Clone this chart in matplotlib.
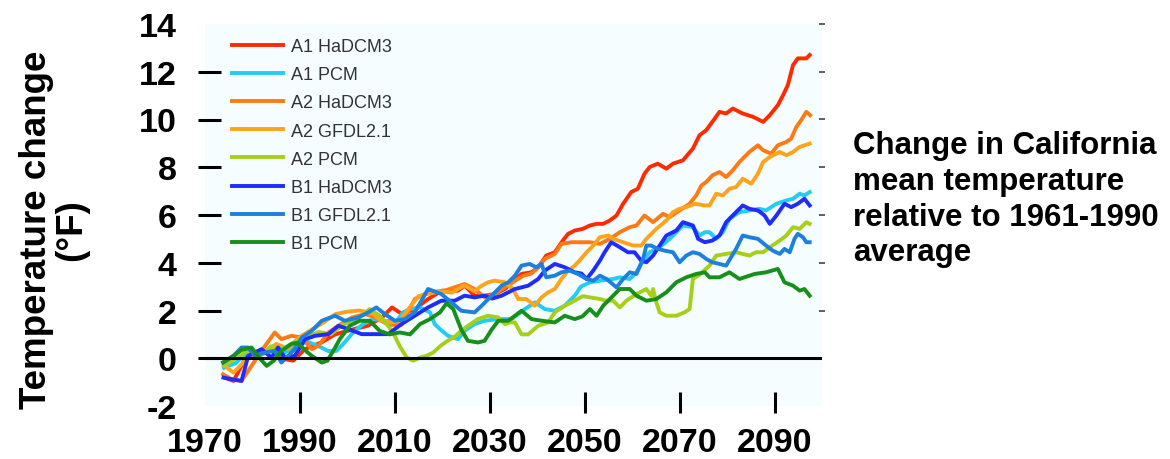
import matplotlib
matplotlib.use("Agg")
import matplotlib.pyplot as plt

plt.rcParams['font.family'] = ['Liberation Sans', 'DejaVu Sans']

# (year, temperature change in degF) for each scenario / model run
a1_hadcm3 = [(1974, -0.8), (1976, -0.95), (1978.8, 0.1), (1981.9, 0.24), (1985.1, 0.38), (1986.8, -0.04),
             (1988.6, -0.1), (1991, 0.38), (1994.6, 0.67), (1997.4, 1.0), (2001, 1.2), (2004.3, 1.36),
             (2007.3, 1.71), (2009.4, 2.13), (2011.5, 1.85), (2014.2, 2.06), (2017, 2.48), (2019.9, 2.83),
             (2023.3, 2.83), (2024.7, 3.04), (2026.8, 2.62), (2028.9, 2.62), (2031, 2.69), (2033.2, 2.9),
             (2034.6, 3.18), (2036.7, 3.53), (2038.8, 3.6), (2040.2, 3.81), (2041.9, 4.3), (2043.7, 4.44),
             (2045.4, 4.93), (2046.5, 5.21), (2047.9, 5.35), (2049.6, 5.42), (2051.1, 5.56), (2052.5, 5.63),
             (2053.9, 5.63), (2055.3, 5.77), (2056.7, 5.98), (2058.1, 6.47), (2059.8, 6.96), (2061.2, 7.1),
             (2062.6, 7.73), (2063.7, 8.01), (2065.4, 8.15), (2067.2, 7.94), (2068.6, 8.15), (2070.7, 8.29),
             (2072.8, 8.78), (2074.2, 9.34), (2075.6, 9.55), (2077.4, 10.04), (2078.4, 10.32), (2079.8, 10.25),
             (2081.2, 10.46), (2083.3, 10.25), (2085.5, 10.11), (2087.6, 9.9), (2089, 10.18), (2090.7, 10.6),
             (2091.8, 11.02), (2092.8, 11.44), (2093.9, 12.28), (2094.9, 12.56), (2096.7, 12.56), (2097.4, 12.7)]

a1_pcm = [(1974, -0.4), (1976.5, -0.2), (1979, 0.3), (1981.5, 0.1), (1984, 0.4), (1986.5, 0.2), (1989, 0.5),
          (1991.5, 0.7), (1994, 0.5), (1996, 0.3), (1997.7, 0.31), (1999.1, 0.59), (2001.2, 1.08),
          (2003.3, 1.43), (2005.4, 1.64), (2008, 1.55), (2010.4, 1.57), (2011.7, 1.92), (2013.2, 2.06),
          (2015.3, 2.13), (2017.4, 1.92), (2018.4, 1.43), (2019.5, 1.22), (2021.2, 0.94), (2023.3, 0.8),
          (2024.7, 1.15), (2026.8, 1.43), (2028.9, 1.57), (2031.8, 1.64), (2034.6, 1.64), (2037.4, 2.06),
          (2039.5, 2.34), (2041.6, 2.06), (2043.7, 1.99), (2045.8, 2.2), (2047.9, 2.62), (2049.2, 3.0),
          (2051.1, 3.18), (2053.2, 3.25), (2056, 3.32), (2057.4, 3.39), (2059.5, 3.32), (2060.9, 3.6),
          (2062.3, 4.09), (2063.7, 4.44), (2065.8, 4.65), (2067.9, 5.0), (2069.3, 5.28), (2070.7, 5.56),
          (2072.8, 5.49), (2074.2, 5.14), (2075.3, 5.28), (2076.3, 5.28), (2077.7, 5.0), (2079.1, 5.28),
          (2080.5, 5.84), (2082.6, 6.12), (2084.7, 6.19), (2086.8, 6.26), (2088.2, 6.19), (2090.4, 6.47),
          (2092.5, 6.61), (2093.9, 6.68), (2095.3, 6.89), (2096.3, 6.82), (2097.4, 6.96)]

a2_hadcm3 = [(1973.8, -0.67), (1975.6, -0.88), (1977.7, -0.95), (1979.8, -0.32), (1981.9, 0.31), (1984.7, 1.08),
             (1986.1, 0.8), (1988.2, 0.94), (1990.4, 0.87), (1992.5, 0.38), (1993.9, 0.52), (1996, 1.08),
             (1998.1, 1.36), (2000.9, 1.7), (2003.7, 1.85), (2006.1, 1.7), (2008.6, 1.4), (2011.4, 1.4),
             (2014.2, 2.48), (2017, 2.76), (2020.5, 2.83), (2022.6, 2.97), (2024.7, 3.11), (2026.8, 2.9),
             (2028.9, 2.55), (2031, 2.69), (2033, 2.95), (2035, 3.2), (2037, 3.45), (2038.8, 3.55),
             (2040.2, 3.81), (2041.6, 4.16), (2043.7, 4.37), (2045.1, 4.79), (2047.2, 4.86), (2048.9, 4.86),
             (2051.1, 4.86), (2053.2, 4.79), (2055.3, 5.0), (2057.4, 5.28), (2059.5, 5.49), (2060.9, 5.56),
             (2062.6, 5.98), (2064.4, 5.7), (2066.5, 6.05), (2067.9, 5.91), (2070, 6.19), (2072.1, 6.47),
             (2073.5, 6.82), (2074.6, 7.24), (2075.6, 7.38), (2076.9, 7.66), (2078.4, 7.8), (2079.8, 7.59),
             (2081.2, 7.87), (2082.6, 8.22), (2084.7, 8.64), (2086.5, 8.92), (2087.6, 8.71), (2089.3, 8.57),
             (2090.7, 8.92), (2092.5, 9.06), (2093.5, 9.2), (2094.6, 9.69), (2095.6, 9.97), (2096.7, 10.32),
             (2097.5, 10.18)]

a2_gfdl = [(1974, -0.3), (1976, -0.6), (1978, -0.2), (1980, 0.3), (1982.5, 0.2), (1985, 0.6), (1987.5, 0.4),
           (1990, 0.9), (1992.5, 1.2), (1995, 1.5), (1997.5, 1.85), (2000, 1.95), (2002.5, 2.0), (2005, 1.9),
           (2007, 1.6), (2009, 1.5), (2011, 1.55), (2013, 2.1), (2015, 2.6), (2017, 2.7), (2019.5, 2.8),
           (2022, 2.75), (2024.7, 3.05), (2026.8, 2.8), (2028, 3.0), (2029.6, 3.18), (2031, 3.25),
           (2033.2, 3.18), (2034.9, 2.9), (2036, 2.48), (2037.7, 2.48), (2039.5, 2.2), (2040.9, 2.55),
           (2042.3, 2.76), (2043.7, 2.9), (2045.1, 3.32), (2046.5, 3.67), (2047.9, 3.88), (2048.9, 4.09),
           (2050.4, 4.44), (2051.8, 4.72), (2053.2, 5.07), (2055, 5.14), (2056, 5.0), (2058.1, 4.86),
           (2060.2, 4.72), (2061.9, 4.72), (2063, 5.0), (2065.1, 5.42), (2067.2, 5.77), (2068.6, 6.12),
           (2070, 6.26), (2071.4, 6.33), (2073.2, 6.47), (2075.3, 6.4), (2076.3, 6.4), (2077.7, 6.89),
           (2079.1, 6.82), (2080.5, 7.1), (2081.9, 7.17), (2083.3, 7.52), (2085.1, 7.31), (2086.5, 7.73),
           (2087.6, 8.22), (2089, 8.43), (2091.1, 8.64), (2092.5, 8.5), (2093.9, 8.64), (2095.3, 8.85),
           (2097.4, 8.99)]

a2_pcm = [(1974, -0.3), (1976.5, 0.0), (1979, 0.3), (1981.5, 0.1), (1984, 0.5), (1986.5, 0.4), (1989, 0.7),
          (1991.5, 0.9), (1994, 1.1), (1996.5, 1.0), (1999, 1.4), (2001.5, 1.6), (2003, 1.78), (2004.7, 2.06),
          (2006.8, 1.78), (2008.3, 1.43), (2009.6, 1.08), (2011, 0.52), (2012.5, 0.03), (2013.9, -0.1),
          (2015.3, 0.03), (2016.7, 0.1), (2018.1, 0.24), (2019.5, 0.5), (2020.9, 0.7), (2022.6, 0.9),
          (2024, 1.15), (2025.4, 1.36), (2027.5, 1.64), (2029.6, 1.78), (2031.8, 1.71), (2033.2, 1.43),
          (2034.2, 1.5), (2035.3, 1.5), (2036.7, 1.0), (2038.1, 1.0), (2040.2, 1.36), (2042.3, 1.5),
          (2043.7, 1.92), (2045.8, 2.2), (2047.2, 2.34), (2049.6, 2.6), (2051.1, 2.55), (2053.2, 2.48),
          (2054.6, 2.41), (2056, 2.41), (2057.4, 2.13), (2058.8, 2.41), (2060.9, 2.69), (2063, 2.9),
          (2064, 2.62), (2064.4, 2.9), (2065.1, 2.34), (2065.8, 1.92), (2067.2, 1.78), (2069.3, 1.78),
          (2071, 1.92), (2072.1, 2.06), (2072.8, 3.32), (2074.2, 3.5), (2076.3, 3.88), (2077.7, 4.3),
          (2079.8, 4.37), (2081.9, 4.44), (2083.3, 4.37), (2084.7, 4.3), (2086.1, 4.44), (2087.6, 4.44),
          (2089, 4.65), (2091.1, 4.93), (2092.5, 5.14), (2093.9, 5.49), (2095.3, 5.42), (2096.7, 5.7),
          (2097.4, 5.63)]

b1_hadcm3 = [(1973.9, -0.81), (1975.6, -0.88), (1977.7, -0.95), (1979.1, 0.1), (1980.5, 0.24), (1981.9, 0.38),
             (1984, 0.03), (1985.4, 0.45), (1986.8, 0.03), (1988.9, 0.1), (1991.1, 0.8), (1993.2, 0.94),
             (1996, 1.01), (1998.1, 1.36), (2000.2, 1.22), (2003, 1.01), (2005.8, 1.01), (2008.6, 1.01),
             (2011.4, 1.43), (2014.2, 1.78), (2017, 2.13), (2019.8, 2.41), (2022.6, 2.41), (2024.7, 2.62),
             (2026.8, 2.55), (2028.9, 2.62), (2030.5, 2.5), (2032.5, 2.62), (2035.3, 2.9), (2038.1, 3.04),
             (2040.2, 3.32), (2041.6, 3.67), (2043.7, 3.95), (2045.8, 3.81), (2047.9, 3.6), (2049.3, 3.55),
             (2050.4, 3.32), (2051.8, 3.67), (2053.2, 4.09), (2054.2, 4.44), (2055.6, 4.86), (2057.4, 4.65),
             (2059.1, 4.44), (2060.5, 4.44), (2061.9, 4.09), (2063, 4.02), (2064.4, 4.3), (2065.8, 4.72),
             (2067.2, 5.14), (2069.3, 5.35), (2070.7, 5.7), (2072.8, 5.56), (2073.9, 5.0), (2075.3, 4.86),
             (2076.9, 4.93), (2078.4, 5.14), (2079.8, 5.7), (2081.2, 5.98), (2083.3, 6.4), (2084.7, 6.26),
             (2086.5, 6.19), (2087.9, 5.98), (2089, 5.63), (2090.4, 5.98), (2092.1, 6.47), (2093.5, 6.33),
             (2094.9, 6.47), (2096.3, 6.68), (2097.4, 6.4)]

b1_gfdl = [(1973.9, -0.18), (1976, 0.1), (1977.7, 0.45), (1979.1, 0.45), (1980.5, 0.1), (1982.6, 0.24),
           (1984.7, 0.31), (1986.1, -0.18), (1988.9, 0.38), (1990.4, 0.87), (1992.5, 1.15), (1994.6, 1.57),
           (1997.4, 1.78), (1999.5, 1.57), (2002.3, 1.71), (2004.4, 1.92), (2006.1, 2.13), (2007.9, 1.85),
           (2010, 1.57), (2012.1, 1.64), (2014.2, 1.92), (2017, 2.9), (2019.8, 2.69), (2021.9, 2.34),
           (2024, 1.99), (2026.8, 1.92), (2028.3, 2.2), (2030.4, 2.62), (2032.5, 3.04), (2033.9, 3.18),
           (2035.3, 3.46), (2036.7, 3.88), (2038.4, 3.95), (2039.8, 3.81), (2040.9, 3.95), (2041.9, 3.39),
           (2043.7, 3.46), (2045.1, 3.6), (2046.8, 3.67), (2048.6, 3.53), (2050.4, 3.32), (2051.8, 3.25),
           (2053.2, 3.46), (2054.6, 3.32), (2056.7, 2.97), (2058.1, 3.32), (2059.5, 3.6), (2060.9, 3.53),
           (2062.3, 4.16), (2063, 4.72), (2064, 4.72), (2065.4, 4.58), (2067, 4.5), (2068.6, 4.44),
           (2070, 4.02), (2071.4, 4.3), (2072.8, 4.44), (2074.2, 4.37), (2075.6, 4.16), (2076.9, 4.02),
           (2078.4, 3.95), (2079.8, 3.88), (2081.9, 4.58), (2083.3, 5.14), (2084.7, 5.07), (2086.5, 5.0),
           (2088.2, 4.72), (2089.6, 4.51), (2091.1, 4.37), (2092.1, 4.58), (2093.2, 4.44), (2094.2, 5.0),
           (2094.9, 5.21), (2096, 5.07), (2096.7, 4.86), (2097.4, 4.86)]

b1_pcm = [(1973.8, -0.17), (1976, 0.1), (1977.7, 0.35), (1979.8, 0.45), (1981.5, 0.0), (1983, -0.32),
          (1984.5, -0.1), (1986.1, 0.31), (1988.2, 0.6), (1989.5, 0.65), (1991, 0.35), (1992.5, 0.1),
          (1994.6, -0.18), (1995.8, -0.1), (1997, 0.3), (1998.4, 0.8), (2000.5, 1.36), (2002.6, 1.57),
          (2004.7, 1.57), (2006.8, 1.15), (2008.9, 1.0), (2011, 1.08), (2013.2, 1.0), (2015.3, 1.43),
          (2017.4, 1.64), (2019.5, 1.92), (2020.9, 2.3), (2022.3, 2.06), (2024, 1.2), (2025.4, 0.73),
          (2027.5, 0.66), (2028.9, 0.73), (2030.4, 1.2), (2031.8, 1.57), (2033.9, 1.57), (2036.7, 1.99),
          (2038.8, 1.64), (2041, 1.57), (2043.7, 1.5), (2045.8, 1.78), (2047.9, 1.64), (2049.5, 1.75),
          (2051.1, 2.06), (2052.5, 1.78), (2053.9, 2.2), (2056, 2.62), (2057.4, 2.9), (2059.5, 2.9),
          (2060.9, 2.62), (2063, 2.41), (2065.1, 2.48), (2067.2, 2.76), (2069.3, 3.18), (2071.4, 3.39),
          (2073.5, 3.53), (2075.3, 3.6), (2076.3, 3.39), (2078.4, 3.39), (2080.5, 3.6), (2082.6, 3.32),
          (2085.8, 3.53), (2088.2, 3.6), (2090.7, 3.74), (2092.1, 3.18), (2093.9, 3.04), (2095.3, 2.83),
          (2096.3, 2.9), (2097.4, 2.62)]

labels = ['A1 HaDCM3', 'A1 PCM', 'A2 HaDCM3', 'A2 GFDL2.1', 'A2 PCM', 'B1 HaDCM3', 'B1 GFDL2.1', 'B1 PCM']
series = [a1_hadcm3, a1_pcm, a2_hadcm3, a2_gfdl, a2_pcm, b1_hadcm3, b1_gfdl, b1_pcm]
colors = ['#ff2a00', '#22ccf2', '#ff7a14', '#ffa41a', '#a6cf1a', '#1f2bff', '#1c80dc', '#16901a']

y_ticks = [-2, 0, 2, 4, 6, 8, 10, 12, 14]
y_marks = [0, 2, 4, 6, 8, 10, 12]
x_ticks = [1970, 1990, 2010, 2030, 2050, 2070, 2090]
x_marks = [1990, 2010, 2030, 2050, 2070, 2090]

fig = plt.figure(figsize=(11.7, 4.6), dpi=100)
ax = fig.add_axes([205 / 1170, 53 / 460, 617 / 1170, 382 / 460])
ax.set_facecolor('#f5fdfe')

for data, label, color in zip(series, labels, colors):
    xs = [p[0] for p in data]
    ys = [p[1] for p in data]
    ax.plot(xs, ys, color=color, lw=2.8, label=label, solid_joinstyle='round')

ax.axhline(0, color='black', lw=2.2, zorder=5)

ax.set_xlim(1970, 2100)
ax.set_ylim(-2, 14)
for s in ax.spines.values():
    s.set_visible(False)
ax.spines['left'].set_position(('outward', 5))
ax.spines['bottom'].set_position(('outward', 5))

# labels sit on the major ticks, the visible marks are minor ticks
ax.xaxis.remove_overlapping_locs = False
ax.yaxis.remove_overlapping_locs = False
ax.set_yticks(y_ticks)
ax.set_yticklabels([str(v) for v in y_ticks])
ax.set_yticks(y_marks, minor=True)
ax.set_xticks(x_ticks)
ax.set_xticklabels([str(v) for v in x_ticks])
ax.set_xticks(x_marks, minor=True)
ax.tick_params(axis='y', which='major', direction='in', length=0, pad=15.5,
               labelsize=24.5, colors='black')
ax.tick_params(axis='x', which='major', direction='in', length=0, pad=10,
               labelsize=24.5, colors='black')
ax.tick_params(axis='y', which='minor', direction='in', length=16.5, width=2.2, colors='black')
ax.tick_params(axis='x', which='minor', direction='in', length=15, width=2.2, colors='black')
for lab in ax.get_xticklabels() + ax.get_yticklabels():
    lab.set_fontweight('bold')

# small marks along the right edge
ax2 = ax.twinx()
ax2.set_ylim(-2, 14)
for s in ax2.spines.values():
    s.set_visible(False)
ax2.set_yticks([2, 4, 6, 8, 10, 12, 14])
ax2.tick_params(axis='y', direction='inout', length=4.5, width=1.2, colors='#444444',
                labelright=False)

ax.legend(loc='upper left', bbox_to_anchor=(232 / 1170, 1 - 39 / 460), bbox_transform=fig.transFigure,
          frameon=False, fontsize=13, handlelength=2.8, handletextpad=0.45, labelspacing=0.62,
          borderpad=0, borderaxespad=0, labelcolor='#333333')

fig.text(54 / 1170, 1 - 230 / 460, 'Temperature change\n(°F)', rotation=90, ha='center', va='center',
         fontsize=26.5, fontweight='bold', linespacing=1.0)

fig.text(853 / 1170, 1 - 131 / 460, 'Change in California\nmean temperature\nrelative to 1961-1990\naverage',
         ha='left', va='top', fontsize=22.5, fontweight='bold', linespacing=1.25)

fig.savefig('out.png', dpi=100, facecolor='white')
